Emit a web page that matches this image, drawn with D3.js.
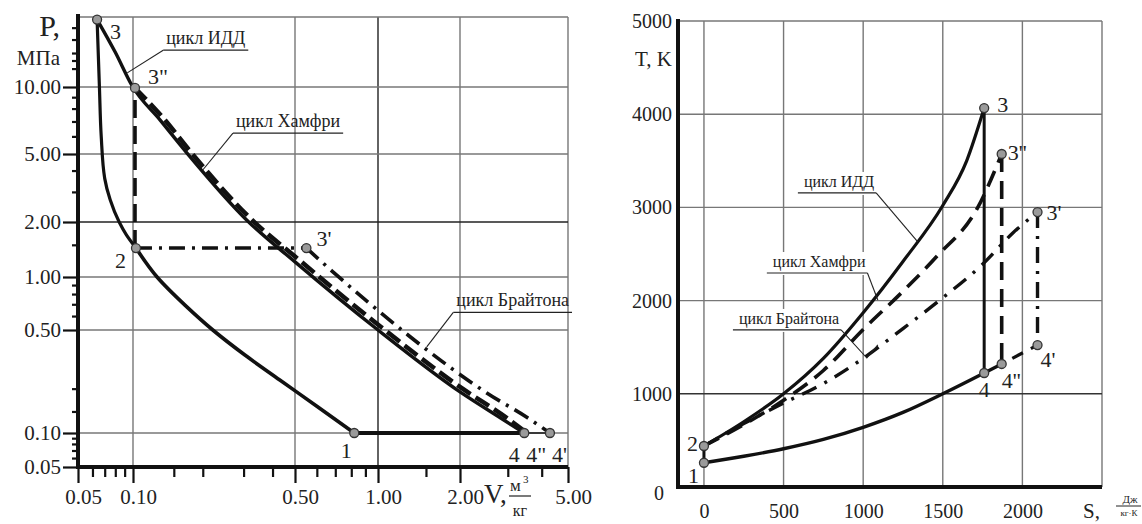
<!DOCTYPE html>
<html lang="ru">
<head>
<meta charset="UTF-8">
<title>Циклы ИДД, Хамфри и Брайтона</title>
<style>
  html, body { margin: 0; padding: 0; background: #fff; }
  svg, svg text { font-family: "Liberation Serif", "DejaVu Serif", "Liberation Sans", sans-serif; }
</style>
</head>
<body>
<svg id="chart" width="1142" height="524"></svg>
<script src="https://cdn.jsdelivr.net/npm/d3@7/dist/d3.min.js"></script>
<script>
// ---------- P-V diagram (left, log-log) ----------
const pvTicksV = [0.05, 0.1, 0.5, 1, 2, 5];
const pvMinorV = [0.06, 0.07, 0.08, 0.09, 0.15, 0.2, 0.3, 0.4, 0.6, 0.7, 0.8, 0.9, 1.5, 3, 4];
const pvTicksP = [0.05, 0.1, 0.5, 1, 2, 5, 10];
const pvMinorP = [0.06, 0.07, 0.08, 0.09, 0.14, 0.2, 0.6, 0.7, 0.8, 0.9, 1.5, 3, 4, 6, 7, 8, 9, 12, 13, 14, 16, 18];
const pvGridV = [0.1, 0.5, 1, 2, 5];
const pvGridP = [0.1, 0.5, 1, 2, 5, 10, 20];

// [V, P] pairs
const pvCompress12 = [[0.82, 0.1], [0.6, 0.152], [0.43, 0.229], [0.304, 0.338], [0.221, 0.5], [0.168, 0.69], [0.127, 1.0], [0.103, 1.44]];
const pvIdd23 = [[0.103, 1.44], [0.092, 1.7], [0.084, 2.0], [0.075, 2.7], [0.07, 3.6], [0.067, 6], [0.0655, 10], [0.0636, 19.5]];
const pvIdd34 = [[0.0636, 19.5], [0.08, 14.1], [0.099, 10.1], [0.131, 7.1], [0.171, 5.05], [0.31, 2.05], [0.5, 1.21], [1.0, 0.5], [2.0, 0.19], [2.9, 0.1225], [3.45, 0.1]];
const pvHum23 = [[0.102, 1.44], [0.102, 9.9]];
const pvHum34 = [[0.102, 9.9], [0.135, 7.26], [0.176, 5.16], [0.32, 2.11], [0.513, 1.254], [1.026, 0.52], [2.05, 0.199], [2.98, 0.1264], [3.53, 0.1]];
const pvBr23 = [[0.103, 1.44], [0.55, 1.44]];
const pvBr34 = [[0.55, 1.44], [0.681, 1.078], [0.92, 0.721], [1.288, 0.4625], [1.792, 0.289], [2.51, 0.187], [3.56, 0.1264], [4.29, 0.1]];
const pv41 = [[0.82, 0.1], [3.45, 0.1]];
const pv44 = [[3.45, 0.1], [4.29, 0.1]];
const pvPoints = [["3", 0.0636, 19.5], ["3\"", 0.102, 9.9], ["2", 0.103, 1.44], ["3'", 0.55, 1.44], ["1", 0.82, 0.1], ["4", 3.45, 0.1], ["4'", 4.29, 0.1]];
const pvNotes = [["цикл ИДД", [0.135, 14.4], [0.093, 11.5]], ["цикл Хамфри", [0.27, 6.2], [0.2, 4.03]], ["цикл Брайтона", [1.89, 0.63], [1.51, 0.384]]];

// ---------- T-S diagram (right) ----------
const tsTicksS = [0, 500, 1000, 1500, 2000];
const tsTicksT = [0, 1000, 2000, 3000, 4000, 5000];
const tsGridS = [0, 500, 1000, 1500, 2000, 2500];
const tsGridT = [1000, 2000, 3000, 4000, 5000];

// [S, T] pairs
const ts12 = [[0, 260], [0, 440]];
const tsReject = [[0, 260], [250, 330], [500, 410], [750, 510], [1000, 640], [1250, 800], [1500, 1000], [1760, 1223], [1870, 1320]];
const tsIdd = [[0, 440], [250, 700], [500, 1000], [750, 1380], [1000, 1870], [1250, 2420], [1500, 3020], [1650, 3500], [1760, 4066]];
const tsIdd34 = [[1760, 4066], [1760, 1223]];
const tsHum = [[0, 440], [250, 670], [500, 930], [750, 1250], [1000, 1690], [1250, 2100], [1460, 2470], [1720, 3000], [1870, 3573]];
const tsHum34 = [[1870, 3573], [1870, 1320]];
const tsBr = [[0, 440], [250, 680], [500, 900], [750, 1110], [1000, 1380], [1250, 1700], [1500, 2030], [1750, 2390], [1940, 2725], [2095, 2950]];
const tsBr34 = [[2095, 2950], [2095, 1523]];
const tsBr44 = [[1870, 1320], [2095, 1523]];
const tsPoints = [["1", 0, 260], ["2", 0, 440], ["3", 1760, 4066], ["3''", 1870, 3573], ["3'", 2095, 2950], ["4", 1760, 1223], ["4''", 1870, 1320], ["4'", 2095, 1523]];
const tsNotes = [["цикл ИДД", [590, 3155], [1343, 2629]], ["цикл Хамфри", [395, 2296], [1092, 2006]], ["цикл Брайтона", [182, 1685], [1023, 1384], [1092, 1524]]];

const FONT = "Liberation Serif, DejaVu Serif, Liberation Sans, sans-serif";
const svg = d3.select("#chart").attr("font-family", FONT);

// the printed axes are irregular, so piecewise log scales follow them
const xV = d3.scaleLog().domain([0.05, 0.1, 0.5, 1, 2, 5]).range([78, 133, 295, 378, 460, 568]);
const yP = d3.scaleLog().domain([20, 10, 5, 2, 1, 0.5, 0.1, 0.05]).range([17, 87, 154, 222, 277, 330, 433, 467]);
const xS = d3.scaleLinear().domain([-163, 2500]).range([678, 1102]);
const yT = d3.scaleLinear().domain([0, 5000]).range([487, 21]);

function path(g, data, xs, ys, w, dash, curve) {
    const ln = d3.line().x(d => xs(d[0])).y(d => ys(d[1])).curve(curve || d3.curveLinear);
    g.append("path").attr("d", ln(data)).attr("fill", "none")
        .attr("stroke", "#111").attr("stroke-width", w)
        .attr("stroke-dasharray", dash || null).attr("stroke-linejoin", "round");
}
function txt(g, x, y, s, size, anchor) {
    return g.append("text").attr("x", x).attr("y", y).attr("font-size", size)
        .attr("text-anchor", anchor || "start").attr("fill", "#222").attr("font-family", FONT).text(s);
}

// ===== left panel =====
const L = svg.append("g");
L.selectAll(".gv").data(pvGridV).join("line")
    .attr("x1", d => xV(d)).attr("x2", d => xV(d)).attr("y1", yP(20)).attr("y2", yP(0.05))
    .attr("stroke", d => d === 1 ? "#222" : "#777").attr("stroke-width", 1.4);
L.selectAll(".gp").data(pvGridP).join("line")
    .attr("x1", xV(0.05)).attr("x2", xV(5)).attr("y1", d => yP(d)).attr("y2", d => yP(d))
    .attr("stroke", d => d === 2 ? "#222" : "#777").attr("stroke-width", 1.4);

const yAxL = L.append("g").attr("transform", `translate(${xV(0.05)},0)`);
yAxL.call(d3.axisLeft(yP).tickValues(pvMinorP).tickSize(6).tickFormat(""));
yAxL.append("g").call(d3.axisLeft(yP).tickValues(pvTicksP).tickSize(15).tickPadding(2).tickFormat(d3.format(".2f")));
const xAxL = L.append("g").attr("transform", `translate(0,${yP(0.05)})`);
xAxL.call(d3.axisBottom(xV).tickValues(pvMinorV).tickSize(10).tickFormat(""));
xAxL.append("g").call(d3.axisBottom(xV).tickValues(pvTicksV).tickSize(16).tickPadding(6).tickFormat(d3.format(".2f")));
[yAxL, xAxL].forEach(a => {
    a.attr("font-family", FONT).selectAll("g").attr("font-family", FONT);
    a.selectAll(".domain").remove();
    a.selectAll(".tick line").attr("stroke", "#111").attr("stroke-width", 2.2);
    a.selectAll("text").attr("font-size", 21).attr("fill", "#222").attr("font-family", FONT);
});
xAxL.selectAll("text").attr("x", 5);
L.append("line").attr("x1", xV(0.05)).attr("x2", xV(0.05)).attr("y1", 14).attr("y2", yP(0.05) + 2)
    .attr("stroke", "#111").attr("stroke-width", 4);
L.append("line").attr("x1", xV(0.05)).attr("x2", xV(5)).attr("y1", yP(0.05)).attr("y2", yP(0.05))
    .attr("stroke", "#111").attr("stroke-width", 4);

path(L, pvCompress12, xV, yP, 3.6, null, d3.curveMonotoneY);
path(L, pvIdd23, xV, yP, 3.2, null, d3.curveMonotoneY);
path(L, pvHum34, xV, yP, 4.5, "16 6", d3.curveMonotoneX);
path(L, pvBr34, xV, yP, 3.6, "16 7 3 7", d3.curveMonotoneX);
path(L, pvIdd34, xV, yP, 3.4, null, d3.curveMonotoneX);
path(L, pvHum23, xV, yP, 3.6, "18 8");
path(L, pvBr23, xV, yP, 3.6, "16 7 3 7");
path(L, pv41, xV, yP, 4);
path(L, pv44, xV, yP, 1.4);

L.selectAll(".pt").data(pvPoints).join("circle")
    .attr("cx", d => xV(d[1])).attr("cy", d => yP(d[2])).attr("r", 4.5)
    .attr("fill", "#9a9a9a").attr("stroke", "#333").attr("stroke-width", 1.3);

const pvLab = { "3": [13, 19, "start"], "3\"": [13, -4, "start"], "2": [-10, 20, "end"], "3'": [10, -2, "start"],
    "1": [-8, 25, "middle"], "4": [-10, 29, "middle"], "4'": [2, 29, "start"] };
pvPoints.forEach(d => {
    const o = pvLab[d[0]];
    txt(L, xV(d[1]) + o[0], yP(d[2]) + o[1], d[0], 22, o[2]);
});
txt(L, xV(3.45) + 12, yP(0.1) + 29, "4\"", 22, "middle");

pvNotes.forEach(d => {
    const ax = xV(d[1][0]), ay = yP(d[1][1]);
    const t = txt(L, ax + 3, ay - 6, d[0], 18);
    const len = t.node().getComputedTextLength() + 6;
    L.append("line").attr("x1", ax).attr("x2", ax + len).attr("y1", ay).attr("y2", ay).attr("stroke", "#222").attr("stroke-width", 1.3);
    L.append("line").attr("x1", ax).attr("y1", ay).attr("x2", xV(d[2][0])).attr("y2", yP(d[2][1])).attr("stroke", "#222").attr("stroke-width", 1.1);
});

txt(L, 60, 36, "P,", 30, "end");
txt(L, 60, 65, "МПа", 21, "end");
txt(L, 484, 503, "V,", 27);
txt(L, 510, 491, "м", 17);
txt(L, 523, 483, "3", 11);
L.append("line").attr("x1", 509).attr("x2", 531).attr("y1", 496).attr("y2", 496).attr("stroke", "#222").attr("stroke-width", 1.2);
txt(L, 520, 516, "кг", 16, "middle");

// ===== right panel =====
const R = svg.append("g");
R.selectAll(".gs").data(tsGridS).join("line")
    .attr("x1", d => xS(d)).attr("x2", d => xS(d)).attr("y1", yT(5000)).attr("y2", yT(0))
    .attr("stroke", "#777").attr("stroke-width", 1.4);
R.selectAll(".gt").data(tsGridT).join("line")
    .attr("x1", xS(-163)).attr("x2", xS(2500)).attr("y1", d => yT(d)).attr("y2", d => yT(d))
    .attr("stroke", d => d === 1000 ? "#333" : "#777").attr("stroke-width", 1.4);

const yAxR = R.append("g").attr("transform", `translate(${xS(-163)},0)`)
    .call(d3.axisLeft(yT).tickValues(tsTicksT).tickSize(0).tickPadding(6).tickFormat(d3.format("d")));
const xAxR = R.append("g").attr("transform", `translate(0,${yT(0)})`)
    .call(d3.axisBottom(xS).tickValues(tsTicksS).tickSize(0).tickPadding(17).tickFormat(d3.format("d")));
[yAxR, xAxR].forEach(a => {
    a.attr("font-family", FONT);
    a.selectAll(".domain").remove();
    a.selectAll("text").attr("font-size", 20).attr("fill", "#222").attr("font-family", FONT);
});
yAxR.selectAll("text").filter(d => d === 0).attr("dy", "0.6em").attr("x", -14);
R.append("line").attr("x1", xS(-163)).attr("x2", xS(-163)).attr("y1", yT(5000) - 2).attr("y2", yT(0) + 2)
    .attr("stroke", "#111").attr("stroke-width", 4);
R.append("line").attr("x1", xS(-163)).attr("x2", xS(2500)).attr("y1", yT(0)).attr("y2", yT(0))
    .attr("stroke", "#111").attr("stroke-width", 4);

// white label backgrounds hide the grid under the notes
const bgs = tsNotes.map(d => R.append("rect").attr("x", xS(d[1][0])).attr("y", yT(d[1][1]) - 21)
    .attr("height", 23).attr("fill", "#fff"));

path(R, ts12, xS, yT, 3);
path(R, tsReject, xS, yT, 3.4, null, d3.curveMonotoneX);
path(R, tsBr, xS, yT, 3.4, "16 9 3 9", d3.curveMonotoneX);
path(R, tsHum, xS, yT, 3.6, "17 9", d3.curveMonotoneX);
path(R, tsIdd, xS, yT, 3.2, null, d3.curveMonotoneX);
path(R, tsIdd34, xS, yT, 3);
path(R, tsHum34, xS, yT, 3.6, "18 9");
path(R, tsBr34, xS, yT, 3.4, "16 8 3 8");
path(R, tsBr44, xS, yT, 3.2, "3 9 12 9");

R.selectAll(".pt").data(tsPoints).join("circle")
    .attr("cx", d => xS(d[1])).attr("cy", d => yT(d[2])).attr("r", 4.5)
    .attr("fill", "#9a9a9a").attr("stroke", "#333").attr("stroke-width", 1.3);

const tsLab = { "1": [-5, 20, "end"], "2": [-6, 5, "end"], "3": [13, 4, "start"], "3''": [6, 6, "start"],
    "3'": [9, 8, "start"], "4": [0, 24, "middle"], "4''": [0, 24, "start"], "4'": [3, 22, "start"] };
tsPoints.forEach(d => {
    const o = tsLab[d[0]];
    txt(R, xS(d[1]) + o[0], yT(d[2]) + o[1], d[0], 22, o[2]);
});

tsNotes.forEach((d, i) => {
    const ax = xS(d[1][0]), ay = yT(d[1][1]);
    const t = txt(R, ax + 6, ay - 6, d[0], 16);
    const len = t.node().getComputedTextLength() + 8;
    bgs[i].attr("width", len);
    R.append("line").attr("x1", ax).attr("x2", ax + len).attr("y1", ay).attr("y2", ay).attr("stroke", "#222").attr("stroke-width", 1.2);
    const pts = [[ax + len, ay]].concat(d.slice(2).map(p => [xS(p[0]), yT(p[1])]));
    R.append("path").attr("d", d3.line()(pts)).attr("fill", "none").attr("stroke", "#222").attr("stroke-width", 1.1);
});

txt(R, 672, 66, "T, K", 21, "end");
txt(R, 1083, 518, "S,", 21);
txt(R, 1130, 503, "Дж", 11, "middle");
R.append("line").attr("x1", 1116).attr("x2", 1141).attr("y1", 506).attr("y2", 506).attr("stroke", "#222").attr("stroke-width", 1);
txt(R, 1129, 516, "кг·К", 9, "middle");
</script>
</body>
</html>
